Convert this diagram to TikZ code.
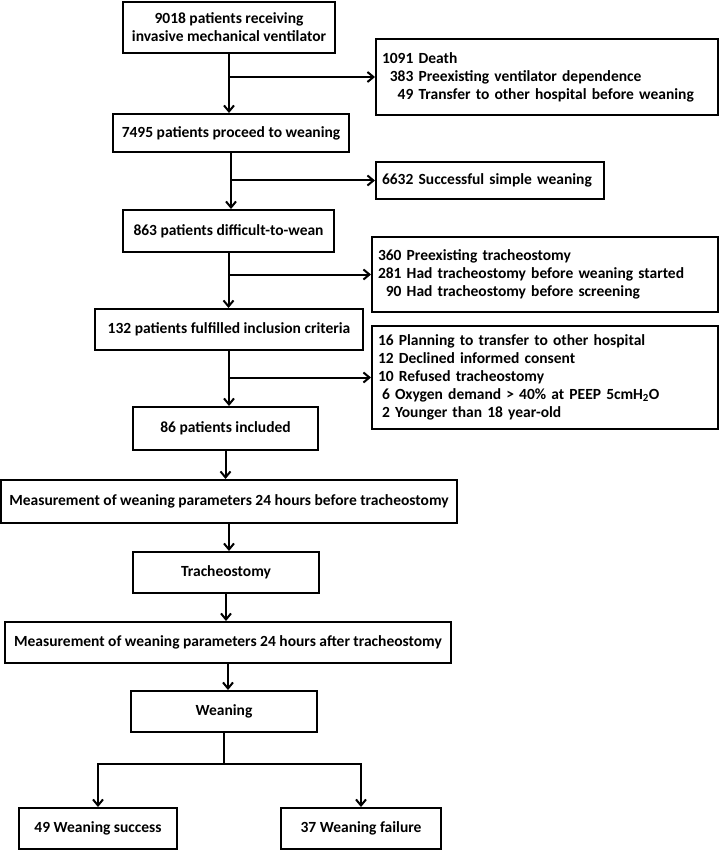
\documentclass[tikz,border=0pt]{standalone}
\usepackage{fontspec}
\setmainfont{Carlito}
\usetikzlibrary{arrows.meta}

\tikzset{
  box/.style={draw, line width=2pt, align=center, inner sep=2pt,
    font=\fontsize{15.5}{18}\selectfont\bfseries},
  side/.style={box, align=left, inner xsep=6pt, text width=#1},
  flow/.style={line width=2pt},
}

\begin{document}
\begin{tikzpicture}[x=1pt, y=-1pt, >={Straight Barb[length=6pt,width=10pt]}]
   \useasboundingbox (0,0) rectangle (720,850);
   \node[box, minimum width=212pt, minimum height=51pt] (all) at (229,27.5)
     {9018 patients receiving\\invasive mechanical ventilator};
   \node[side=330pt, minimum height=76pt] (ex1) at (547,77)
     {1091 Death\\\phantom{0}383 Preexisting ventilator dependence\\
      \phantom{00}49 Transfer to other hospital before weaning};
   \node[box, minimum width=236pt, minimum height=38pt] (proc) at (231,133)
     {7495 patients proceed to weaning};
   \node[side=216pt, minimum height=37pt] (ex2) at (490,180.5)
     {6632 Successful simple weaning};
   \node[box, minimum width=211pt, minimum height=42pt] (diff) at (228.5,231)
     {863 patients difficult-to-wean};
   \node[side=334pt, minimum height=75pt] (ex3) at (545,274.5)
     {360 Preexisting tracheostomy\\281 Had tracheostomy before weaning started\\
      \phantom{0}90 Had tracheostomy before screening};
   \node[box, minimum width=268pt, minimum height=41pt] (incl) at (229,329.5)
     {132 patients fulfilled inclusion criteria};
   \node[side=334pt, minimum height=103pt] (ex4) at (545,377.5)
     {16 Planning to transfer to other hospital\\12 Declined informed consent\\
      10 Refused tracheostomy\\
      \hspace*{4pt}6 Oxygen demand > 40\% at PEEP 5cmH\textsubscript{2}O\\
      \hspace*{4pt}2 Younger than 18 year-old};
   \node[box, minimum width=185pt, minimum height=43pt] (incd) at (225.5,428.5)
     {86 patients included};
   \node[box, minimum width=456pt, minimum height=43pt] (pre) at (229,501.5)
     {Measurement of weaning parameters 24 hours before tracheostomy};
   \node[box, minimum width=186pt, minimum height=41pt] (trach) at (226,572.5)
     {Tracheostomy};
   \node[box, minimum width=446pt, minimum height=41pt] (post) at (228,642.5)
     {Measurement of weaning parameters 24 hours after tracheostomy};
   \node[box, minimum width=186pt, minimum height=41pt] (wean) at (224,711.5)
     {Weaning};
   \node[box, minimum width=158pt, minimum height=41pt] (succ) at (98,828.5)
     {49 Weaning success};
   \node[box, minimum width=160pt, minimum height=41pt] (fail) at (361,828.5)
     {37 Weaning failure};
   \path[->, flow]
     (all)  edge (all |- proc.north)
     (proc) edge (proc |- diff.north)
     (diff) edge (diff |- incl.north)
     (incl) edge (incl |- incd.north)
     (incd) edge (incd |- pre.north)
     (pre)  edge (pre |- trach.north)
     (trach) edge (trach |- post.north)
     (post) edge (post |- wean.north)
     (all |- ex1)  edge (ex1)
     (proc |- ex2) edge (ex2)
     (diff |- ex3) edge (ex3)
     (incl |- ex4) edge (ex4);
   \path (wean.south) ++(0,31) coordinate (sp);
   \draw[flow] (wean) -- (sp);
   \draw[->, flow] (sp) -| (succ);
   \draw[->, flow] (sp) -| (fail);
  \end{tikzpicture}
\end{document}
